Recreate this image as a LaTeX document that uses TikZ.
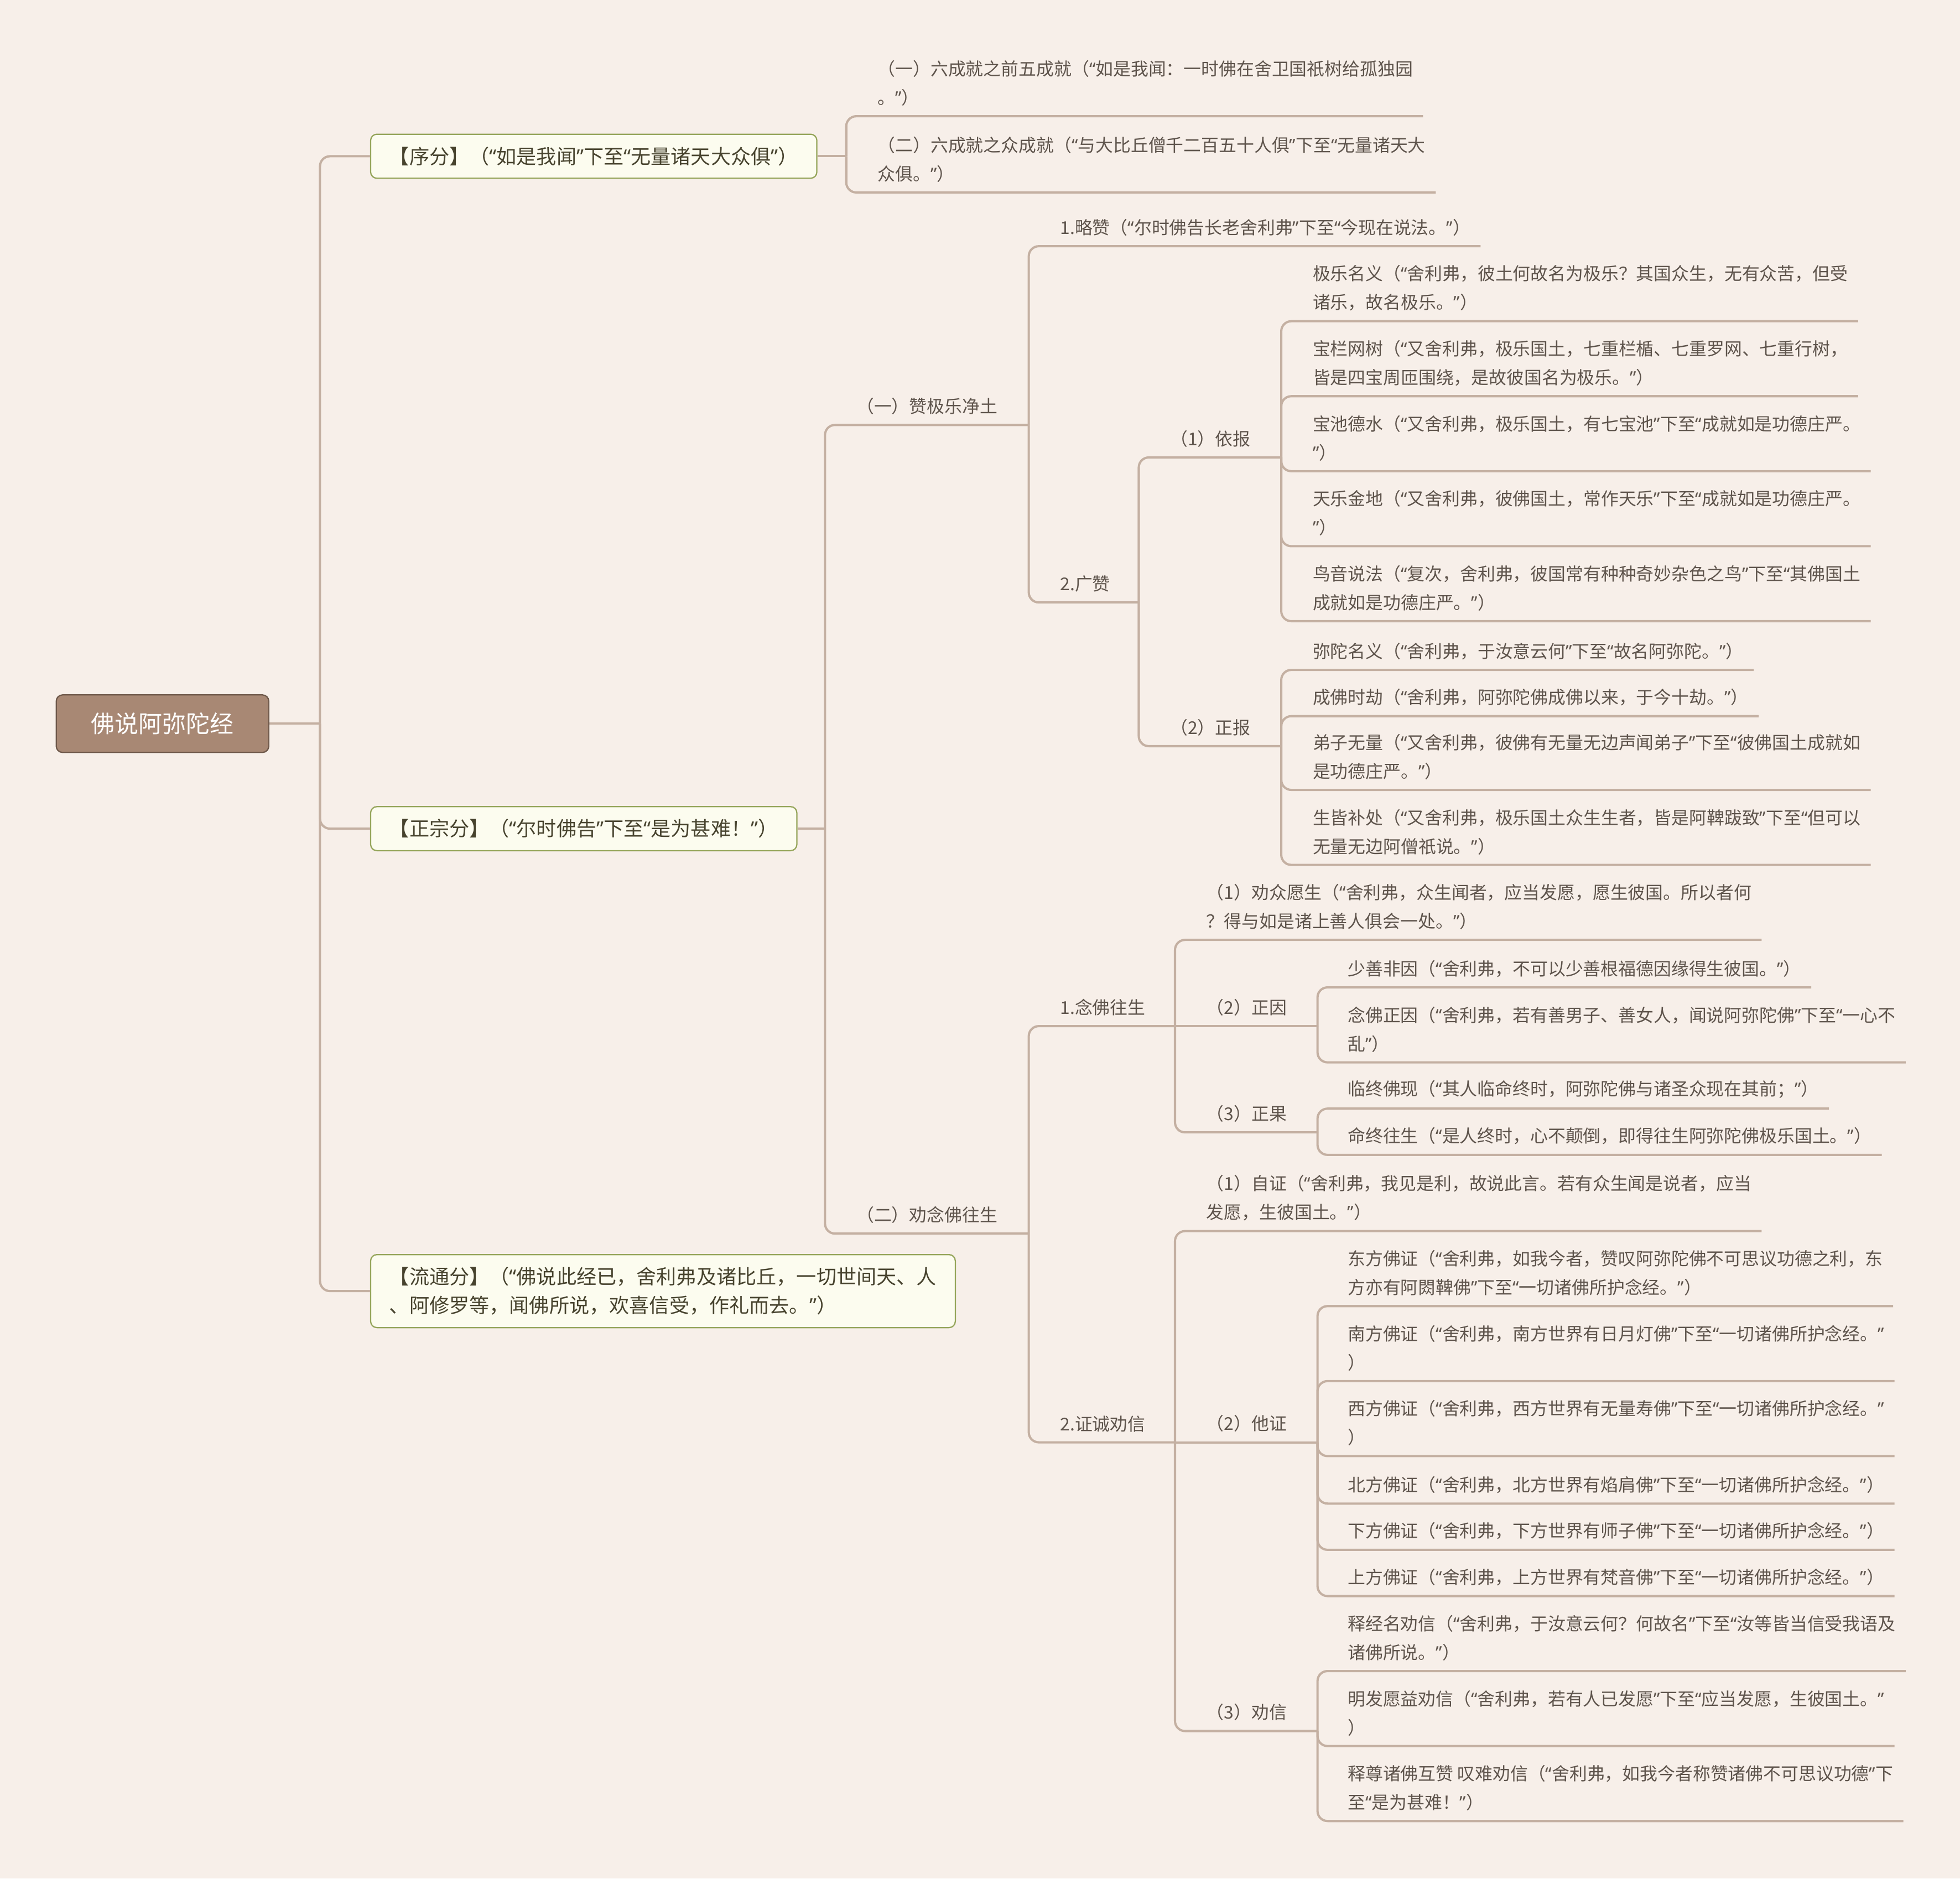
\documentclass[tikz,border=0pt]{standalone}
\usepackage{fontspec}
\setmainfont{Noto Sans CJK SC}
\newfontfamily\quotefont{Noto Sans}
\usepackage{tikz}
\definecolor{paper}{HTML}{F7EFE9}
\definecolor{twig}{HTML}{C4B0A2}
\definecolor{ink}{HTML}{5E544C}
\definecolor{bark}{HTML}{A88874}
\definecolor{barkline}{HTML}{6E584A}
\definecolor{partbg}{HTML}{FCFCEF}
\definecolor{partline}{HTML}{95A55A}
\definecolor{partink}{HTML}{47432E}
% narrow quote marks, as in the mind map
\catcode"201C=\active
\def“{{\quotefont\char"201C}}
\catcode"201D=\active
\def”{{\quotefont\char"201D}}
\tikzset{link/.style={draw=twig,line width=1.8pt,rounded corners=8pt}}
\tikzset{topic/.style={anchor=south west,inner xsep=0pt,inner ysep=8pt,align=left,text=ink,font=\fontsize{14.1}{23}\selectfont}}
\tikzset{part/.style={anchor=west,draw=partline,fill=partbg,line width=1pt,rounded corners=5pt,inner xsep=15pt,inner ysep=10pt,align=left,text=partink,font=\fontsize{16}{23}\selectfont}}
\tikzset{title/.style={draw=barkline,fill=bark,line width=1pt,rounded corners=5pt,minimum width=170pt,minimum height=46pt,text=white,font=\fontsize{19}{23}\selectfont}}

\begin{document}
\begin{tikzpicture}[x=1pt,y=-1pt]
\useasboundingbox (0,0) rectangle (1568,1503);
\fill[paper] (0,0) rectangle (1568,1503);
%\draw[step=100,lightgray,very thin] (0,0) grid (1568,1503);
\node[title] (sutra) at (130,579) {佛说阿弥陀经};
\coordinate (trunk) at (256,579);
\node[part] (xu) at (296,125) {【序分】（“如是我闻”下至“无量诸天大众俱”）};
\node[part] (zheng) at (296,663) {【正宗分】（“尔时佛告”下至“是为甚难！”）};
\node[part] (liu) at (296,1033) {【流通分】（“佛说此经已，舍利弗及诸比丘，一切世间天、人\\、阿修罗等，闻佛所说，欢喜信受，作礼而去。”）};
\coordinate (xu-end) at (677,125);
\coordinate (zheng-end) at (660,663);
\node[topic] (xu-a) at (702,93) {（一）六成就之前五成就（“如是我闻：一时佛在舍卫国祇树给孤独园\\。”）};
\node[topic] (xu-b) at (702,154) {（二）六成就之众成就（“与大比丘僧千二百五十人俱”下至“无量诸天大\\众俱。”）};
\node[topic] (zan) at (685,340) {（一）赞极乐净土};
\node[topic] (quan) at (685,987) {（二）劝念佛往生};
\coordinate (zan-end) at (823,340);
\coordinate (quan-end) at (823,987);
\node[topic] (lue) at (848,197) {1.略赞（“尔时佛告长老舍利弗”下至“今现在说法。”）};
\node[topic] (guang) at (848,482) {2.广赞};
\coordinate (guang-end) at (911,482);
\node[topic] (yi) at (936,366) {（1）依报};
\node[topic] (zb) at (936,597) {（2）正报};
\coordinate (yi-end) at (1025,366);
\coordinate (zb-end) at (1025,597);
\node[topic] (yi-1) at (1050,257) {极乐名义（“舍利弗，彼土何故名为极乐？其国众生，无有众苦，但受\\诸乐，故名极乐。”）};
\node[topic] (yi-2) at (1050,317) {宝栏网树（“又舍利弗，极乐国土，七重栏楯、七重罗网、七重行树，\\皆是四宝周匝围绕，是故彼国名为极乐。”）};
\node[topic] (yi-3) at (1050,377) {宝池德水（“又舍利弗，极乐国土，有七宝池”下至“成就如是功德庄严。\\”）};
\node[topic] (yi-4) at (1050,437) {天乐金地（“又舍利弗，彼佛国土，常作天乐”下至“成就如是功德庄严。\\”）};
\node[topic] (yi-5) at (1050,497) {鸟音说法（“复次，舍利弗，彼国常有种种奇妙杂色之鸟”下至“其佛国土\\成就如是功德庄严。”）};
\node[topic] (zb-1) at (1050,536) {弥陀名义（“舍利弗，于汝意云何”下至“故名阿弥陀。”）};
\node[topic] (zb-2) at (1050,573) {成佛时劫（“舍利弗，阿弥陀佛成佛以来，于今十劫。”）};
\node[topic] (zb-3) at (1050,632) {弟子无量（“又舍利弗，彼佛有无量无边声闻弟子”下至“彼佛国土成就如\\是功德庄严。”）};
\node[topic] (zb-4) at (1050,692) {生皆补处（“又舍利弗，极乐国土众生生者，皆是阿鞞跋致”下至“但可以\\无量无边阿僧祇说。”）};
\node[topic] (nian) at (848,821) {1.念佛往生};
\node[topic] (zcheng) at (848,1154) {2.证诚劝信};
\coordinate (nian-end) at (940,821);
\coordinate (zcheng-end) at (940,1154);
\node[topic] (yuan) at (965,752) {（1）劝众愿生（“舍利弗，众生闻者，应当发愿，愿生彼国。所以者何\\？得与如是诸上善人俱会一处。”）};
\node[topic] (zy) at (965,821) {（2）正因};
\node[topic] (zg) at (965,906) {（3）正果};
\coordinate (zy-end) at (1054,821);
\coordinate (zg-end) at (1054,906);
\node[topic] (zy-1) at (1078,790) {少善非因（“舍利弗，不可以少善根福德因缘得生彼国。”）};
\node[topic] (zy-2) at (1078,850) {念佛正因（“舍利弗，若有善男子、善女人，闻说阿弥陀佛”下至“一心不\\乱”）};
\node[topic] (zg-1) at (1078,887) {临终佛现（“其人临命终时，阿弥陀佛与诸圣众现在其前；”）};
\node[topic] (zg-2) at (1078,924) {命终往生（“是人终时，心不颠倒，即得往生阿弥陀佛极乐国土。”）};
\node[topic] (zz) at (965,985) {（1）自证（“舍利弗，我见是利，故说此言。若有众生闻是说者，应当\\发愿，生彼国土。”）};
\node[topic] (tz) at (965,1154) {（2）他证};
\node[topic] (qx) at (965,1385) {（3）劝信};
\coordinate (tz-end) at (1054,1154);
\coordinate (qx-end) at (1054,1385);
\node[topic] (tz-1) at (1078,1045) {东方佛证（“舍利弗，如我今者，赞叹阿弥陀佛不可思议功德之利，东\\方亦有阿閦鞞佛”下至“一切诸佛所护念经。”）};
\node[topic] (tz-2) at (1078,1105) {南方佛证（“舍利弗，南方世界有日月灯佛”下至“一切诸佛所护念经。”\\）};
\node[topic] (tz-3) at (1078,1165) {西方佛证（“舍利弗，西方世界有无量寿佛”下至“一切诸佛所护念经。”\\）};
\node[topic] (tz-4) at (1078,1203) {北方佛证（“舍利弗，北方世界有焰肩佛”下至“一切诸佛所护念经。”）};
\node[topic] (tz-5) at (1078,1240) {下方佛证（“舍利弗，下方世界有师子佛”下至“一切诸佛所护念经。”）};
\node[topic] (tz-6) at (1078,1277) {上方佛证（“舍利弗，上方世界有梵音佛”下至“一切诸佛所护念经。”）};
\node[topic] (qx-1) at (1078,1337) {释经名劝信（“舍利弗，于汝意云何？何故名”下至“汝等皆当信受我语及\\诸佛所说。”）};
\node[topic] (qx-2) at (1078,1397) {明发愿益劝信（“舍利弗，若有人已发愿”下至“应当发愿，生彼国土。”\\）};
\node[topic] (qx-3) at (1078,1457) {释尊诸佛互赞 叹难劝信（“舍利弗，如我今者称赞诸佛不可思议功德”下\\至“是为甚难！”）};
% main trunk
\draw[link] (sutra.east) -- (trunk);
\draw[link] (trunk) |- (xu.west);
\draw[link] (trunk) |- (zheng.west);
\draw[link] (trunk) |- (liu.west);
% xu fen
\draw[link] (xu.east) -- (xu-end);
\draw[link] (xu-end) |- (xu-a.south west) -- ([xshift=8pt]xu-a.south east);
\draw[link] (xu-end) |- (xu-b.south west) -- ([xshift=8pt]xu-b.south east);
% zheng zong fen
\draw[link] (zheng.east) -- (zheng-end);
\draw[link] (zheng-end) |- (zan.south west) -- (zan-end);
\draw[link] (zheng-end) |- (quan.south west) -- (quan-end);
\draw[link] (zan-end) |- (lue.south west) -- ([xshift=8pt]lue.south east);
\draw[link] (zan-end) |- (guang.south west) -- (guang-end);
\draw[link] (guang-end) |- (yi.south west) -- (yi-end);
\draw[link] (guang-end) |- (zb.south west) -- (zb-end);
\draw[link] (yi-end) |- (yi-1.south west) -- ([xshift=8pt]yi-1.south east);
\draw[link] (yi-end) |- (yi-2.south west) -- ([xshift=8pt]yi-2.south east);
\draw[link] (yi-end) |- (yi-3.south west) -- ([xshift=8pt]yi-3.south east);
\draw[link] (yi-end) |- (yi-4.south west) -- ([xshift=8pt]yi-4.south east);
\draw[link] (yi-end) |- (yi-5.south west) -- ([xshift=8pt]yi-5.south east);
\draw[link] (zb-end) |- (zb-1.south west) -- ([xshift=8pt]zb-1.south east);
\draw[link] (zb-end) |- (zb-2.south west) -- ([xshift=8pt]zb-2.south east);
\draw[link] (zb-end) |- (zb-3.south west) -- ([xshift=8pt]zb-3.south east);
\draw[link] (zb-end) |- (zb-4.south west) -- ([xshift=8pt]zb-4.south east);
\draw[link] (quan-end) |- (nian.south west) -- (nian-end);
\draw[link] (quan-end) |- (zcheng.south west) -- (zcheng-end);
\draw[link] (nian-end) |- (yuan.south west) -- ([xshift=8pt]yuan.south east);
\draw[link] (nian-end) -- (zy.south west) -- (zy-end);
\draw[link] (nian-end) |- (zg.south west) -- (zg-end);
\draw[link] (zy-end) |- (zy-1.south west) -- ([xshift=8pt]zy-1.south east);
\draw[link] (zy-end) |- (zy-2.south west) -- ([xshift=8pt]zy-2.south east);
\draw[link] (zg-end) |- (zg-1.south west) -- ([xshift=8pt]zg-1.south east);
\draw[link] (zg-end) |- (zg-2.south west) -- ([xshift=8pt]zg-2.south east);
\draw[link] (zcheng-end) |- (zz.south west) -- ([xshift=8pt]zz.south east);
\draw[link] (zcheng-end) -- (tz.south west) -- (tz-end);
\draw[link] (zcheng-end) |- (qx.south west) -- (qx-end);
\draw[link] (tz-end) |- (tz-1.south west) -- ([xshift=8pt]tz-1.south east);
\draw[link] (tz-end) |- (tz-2.south west) -- ([xshift=8pt]tz-2.south east);
\draw[link] (tz-end) |- (tz-3.south west) -- ([xshift=8pt]tz-3.south east);
\draw[link] (tz-end) |- (tz-4.south west) -- ([xshift=8pt]tz-4.south east);
\draw[link] (tz-end) |- (tz-5.south west) -- ([xshift=8pt]tz-5.south east);
\draw[link] (tz-end) |- (tz-6.south west) -- ([xshift=8pt]tz-6.south east);
\draw[link] (qx-end) |- (qx-1.south west) -- ([xshift=8pt]qx-1.south east);
\draw[link] (qx-end) |- (qx-2.south west) -- ([xshift=8pt]qx-2.south east);
\draw[link] (qx-end) |- (qx-3.south west) -- ([xshift=8pt]qx-3.south east);
\end{tikzpicture}
\end{document}
